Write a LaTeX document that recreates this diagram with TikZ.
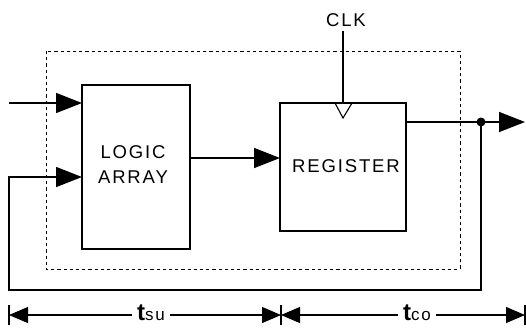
\documentclass[tikz,border=0pt]{standalone}
\usepackage{fontspec}
\setmainfont{Liberation Sans}
\newfontfamily\spaced[LetterSpace=10]{Liberation Sans}
\usetikzlibrary{arrows.meta}
\tikzset{
  wire/.style={line width=1.5pt},
  bigtip/.style={-{Triangle[length=26pt,width=20pt]}},
  dimtip/.style={-{Triangle[length=19pt,width=16pt]}},
  lbl/.style={font=\spaced\fontsize{18.5}{25}\selectfont, align=center, inner sep=0pt},
}
\begin{document}
\begin{tikzpicture}[x=1pt,y=-1pt]
\useasboundingbox (0,0) rectangle (526,327);
% dotted enclosure
\draw[line width=1pt, dash pattern=on 3.2pt off 3pt] (46,51) rectangle (460,269);
% blocks
\draw[line width=1.2pt] (82,85) rectangle (190,249);
\node[lbl] (la) at (133,165) {LOGIC\\ARRAY};
\draw[line width=1.2pt] (280,103) rectangle (406,231);
\node[lbl] (reg) at (346,166) {REGISTER};
% clock
\node[lbl] (clk) at (346,20) {CLK};
\coordinate (clkin) at (343,103);
\draw[wire] (343,31) -- (clkin);
\draw[line width=1.1pt] (335,103) -- (343,118) -- (352,103);
% input
\coordinate (in) at (9,103);
\coordinate (laIn) at (82,103);
\draw[wire, bigtip] (in) -- (laIn);
% logic -> register
\coordinate (laOut) at (190,158);
\coordinate (regIn) at (280,158);
\draw[wire, bigtip] (laOut) -- (regIn);
% register output
\coordinate (regOut) at (406,122);
\coordinate (dot) at (481,122);
\coordinate (outEnd) at (525,122);
\draw[wire, bigtip] (regOut) -- (outEnd);
\fill (dot) circle (4.5pt);
% feedback
\coordinate (laFb) at (82,177);
\draw[wire, bigtip] (dot) -- (481,290) -- (9,290) -- (9,177) -- (laFb);
% timing dimension
\coordinate (tL) at (9,315);
\coordinate (tM) at (281,315);
\coordinate (tR) at (525,315);
\draw[line width=1.1pt] (9,305) -- (9,325);
\draw[line width=1.1pt] (281,305) -- (281,325);
\draw[line width=1.1pt] (525,305) -- (525,325);
\node[inner sep=5pt] (tsu) at (151,313) {\fontsize{24}{24}\selectfont\bfseries t\fontsize{17}{17}\mdseries\spaced su};
\node[inner sep=5pt] (tco) at (417,313) {\fontsize{24}{24}\selectfont\bfseries t\fontsize{17}{17}\mdseries\spaced co};
\draw[line width=1.1pt, dimtip] (tsu.west |- tL) -- (tL);
\draw[line width=1.1pt, dimtip] (tsu.east |- tL) -- (tM);
\draw[line width=1.1pt, dimtip] (tco.west |- tL) -- (tM);
\draw[line width=1.1pt, dimtip] (tco.east |- tL) -- (tR);
\end{tikzpicture}
\end{document}
